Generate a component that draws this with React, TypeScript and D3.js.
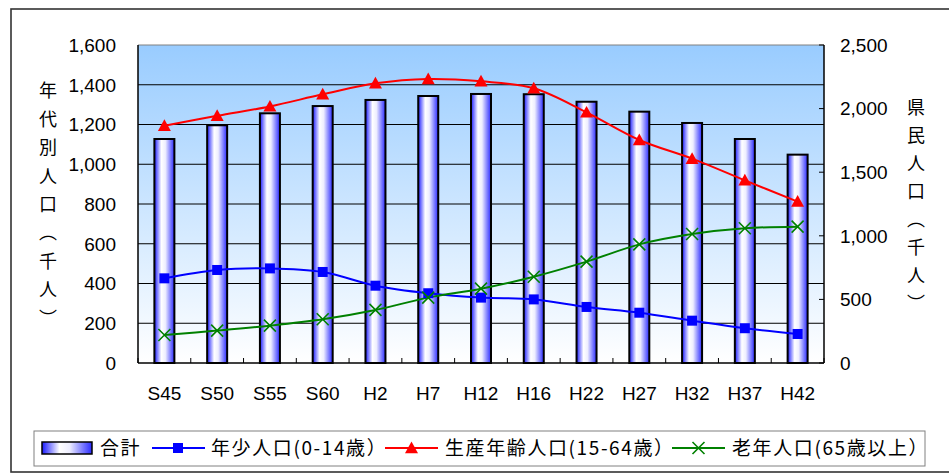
import React from 'react';
import * as d3 from 'd3';

// Census years / projections
const categories = ['S45', 'S50', 'S55', 'S60', 'H2', 'H7', 'H12', 'H16', 'H22', 'H27', 'H32', 'H37', 'H42'];
// 県民人口 合計 (thousand people, right axis)
const total = [1761, 1869, 1963, 2020, 2068, 2099, 2115, 2113, 2054, 1976, 1887, 1761, 1638];
// 年代別人口 (thousand people, left axis)
const young = [426, 468, 476, 458, 389, 351, 329, 320, 282, 253, 213, 175, 146];
const working = [1194, 1244, 1291, 1352, 1407, 1429, 1417, 1382, 1261, 1122, 1028, 919, 812];
const elderly = [141, 163, 188, 220, 267, 329, 374, 434, 510, 597, 649, 678, 686];

const leftTicks = [0, 200, 400, 600, 800, 1000, 1200, 1400, 1600];
const rightTicks = [0, 500, 1000, 1500, 2000, 2500];

const leftTitle = ['年', '代', '別', '人', '口', '︵', '千', '人', '︶'];
const rightTitle = ['県', '民', '人', '口', '︵', '千', '人', '︶'];

const W = 949;
const H = 474;
const plot = { left: 138, right: 824, top: 45, bottom: 363 };
const FONT = '"Liberation Sans", Arial, "Noto Sans CJK JP", sans-serif';
const JFONT = '"Noto Sans CJK JP", sans-serif';

export default function App() {
  const x = d3.scaleBand().domain(categories).range([plot.left, plot.right]).padding(0);
  const yL = d3.scaleLinear().domain([0, 1600]).range([plot.bottom, plot.top]);
  const yR = d3.scaleLinear().domain([0, 2500]).range([plot.bottom, plot.top]);
  const cx = (c: string) => (x(c) as number) + x.bandwidth() / 2;
  const barW = 20;

  const line = d3
    .line<number>()
    .x((_, i) => cx(categories[i]))
    .y((v) => yL(v))
    .curve(d3.curveCatmullRom.alpha(0.5));

  const tri = (px: number, py: number, s = 6.5) =>
    `M${px},${py - s}L${px + s},${py + s * 0.8}L${px - s},${py + s * 0.8}Z`;
  const cross = (px: number, py: number, s = 6) =>
    `M${px - s},${py - s}L${px + s},${py + s}M${px - s},${py + s}L${px + s},${py - s}`;

  const boundaries = d3.range(categories.length + 1).map((i) => plot.left + i * x.bandwidth());

  const legendText = {
    fontFamily: JFONT,
    fontSize: 19,
    letterSpacing: 1.6,
    fill: '#000',
  } as const;

  return (
    <svg
      width={W}
      height={H}
      style={{ position: 'absolute', left: 0, top: 0, background: '#fff' }}
    >
      <defs>
        <linearGradient id="plotBg" x1="0" y1="0" x2="0" y2="1">
          <stop offset="0%" stopColor="#99ccff" />
          <stop offset="100%" stopColor="#ffffff" />
        </linearGradient>
        <linearGradient id="barFill" x1="0" y1="0" x2="1" y2="0">
          <stop offset="0%" stopColor="#1a1aff" />
          <stop offset="35%" stopColor="#ffffff" />
          <stop offset="55%" stopColor="#eeeeff" />
          <stop offset="100%" stopColor="#2a2aff" />
        </linearGradient>
      </defs>

      {/* outer frame */}
      <rect x={11} y={9} width={950} height={463} fill="#fff" stroke="#333" strokeWidth={1.6} />

      {/* plot background */}
      <rect
        x={plot.left}
        y={plot.top}
        width={plot.right - plot.left}
        height={plot.bottom - plot.top}
        fill="url(#plotBg)"
      />

      {/* gridlines */}
      {leftTicks.slice(1).map((t) => (
        <line
          key={t}
          x1={plot.left}
          x2={plot.right}
          y1={yL(t)}
          y2={yL(t)}
          stroke={t === 1600 ? '#808080' : '#000'}
          strokeWidth={1}
        />
      ))}

      {/* axes */}
      <line x1={plot.left} x2={plot.left} y1={plot.top} y2={plot.bottom} stroke="#000" strokeWidth={1.5} />
      <line x1={plot.right} x2={plot.right} y1={plot.top} y2={plot.bottom} stroke="#000" strokeWidth={1.5} />
      {boundaries.map((bx, i) => (
        <line key={i} x1={bx} x2={bx} y1={plot.bottom} y2={plot.bottom - 5} stroke="#000" strokeWidth={1} />
      ))}
      {rightTicks.map((t) => (
        <line key={t} x1={plot.right - 5} x2={plot.right} y1={yR(t)} y2={yR(t)} stroke="#000" strokeWidth={1} />
      ))}

      {/* total bars */}
      {total.map((v, i) => (
        <rect
          key={categories[i]}
          x={cx(categories[i]) - barW / 2}
          y={yR(v)}
          width={barW}
          height={plot.bottom - yR(v)}
          fill="url(#barFill)"
          stroke="#000"
          strokeWidth={2}
        />
      ))}

      <line x1={plot.left} x2={plot.right} y1={plot.bottom} y2={plot.bottom} stroke="#000" strokeWidth={1.5} />

      {/* age-group lines */}
      <path d={line(working) as string} fill="none" stroke="#ff0000" strokeWidth={2} />
      <path d={line(young) as string} fill="none" stroke="#0000ff" strokeWidth={2} />
      <path d={line(elderly) as string} fill="none" stroke="#008000" strokeWidth={2} />

      {working.map((v, i) => (
        <path key={`w${i}`} d={tri(cx(categories[i]), yL(v))} fill="#ff0000" />
      ))}
      {young.map((v, i) => (
        <rect key={`y${i}`} x={cx(categories[i]) - 5} y={yL(v) - 5} width={10} height={10} fill="#0000ff" />
      ))}
      {elderly.map((v, i) => (
        <path key={`e${i}`} d={cross(cx(categories[i]), yL(v))} stroke="#008000" strokeWidth={1.6} fill="none" />
      ))}

      {/* tick labels */}
      {leftTicks.map((t) => (
        <text
          key={t}
          x={116}
          y={yL(t)}
          dy="0.36em"
          textAnchor="end"
          fontFamily={FONT}
          fontSize={19}
          fill="#000"
        >
          {d3.format(',')(t)}
        </text>
      ))}
      {rightTicks.map((t) => (
        <text
          key={t}
          x={840}
          y={yR(t)}
          dy="0.36em"
          textAnchor="start"
          fontFamily={FONT}
          fontSize={19}
          fill="#000"
        >
          {d3.format(',')(t)}
        </text>
      ))}
      {categories.map((c) => (
        <text
          key={c}
          x={cx(c)}
          y={400}
          textAnchor="middle"
          fontFamily={FONT}
          fontSize={19}
          fill="#000"
        >
          {c}
        </text>
      ))}

      {/* axis titles */}
      {leftTitle.map((ch, i) => (
        <text
          key={`l${i}`}
          x={48}
          y={91 + i * 28.4}
          dy="0.36em"
          textAnchor="middle"
          fontFamily={JFONT}
          fontSize={18}
          fill="#000"
        >
          {ch}
        </text>
      ))}
      {rightTitle.map((ch, i) => (
        <text
          key={`r${i}`}
          x={916}
          y={108 + i * 28}
          dy="0.36em"
          textAnchor="middle"
          fontFamily={JFONT}
          fontSize={18}
          fill="#000"
        >
          {ch}
        </text>
      ))}

      {/* legend */}
      <rect x={34} y={431} width={891} height={35} fill="#fff" stroke="#808080" strokeWidth={1} />
      <rect x={42} y={442} width={50} height={12} fill="url(#barFill)" stroke="#000" strokeWidth={1.5} />
      <text x={100} y={448} dy="0.36em" {...legendText}>合計</text>

      <line x1={152} x2={205} y1={448} y2={448} stroke="#0000ff" strokeWidth={2} />
      <rect x={173} y={443} width={10} height={10} fill="#0000ff" />
      <text x={211} y={448} dy="0.36em" {...legendText}>年少人口(0-14歳）</text>

      <line x1={385} x2={438} y1={448} y2={448} stroke="#ff0000" strokeWidth={2} />
      <path d={tri(411.5, 448)} fill="#ff0000" />
      <text x={445} y={448} dy="0.36em" {...legendText}>生産年齢人口(15-64歳）</text>

      <line x1={672} x2={725} y1={448} y2={448} stroke="#008000" strokeWidth={2} />
      <path d={cross(698.5, 448)} stroke="#008000" strokeWidth={1.6} fill="none" />
      <text x={732} y={448} dy="0.36em" {...legendText}>老年人口(65歳以上）</text>
    </svg>
  );
}
